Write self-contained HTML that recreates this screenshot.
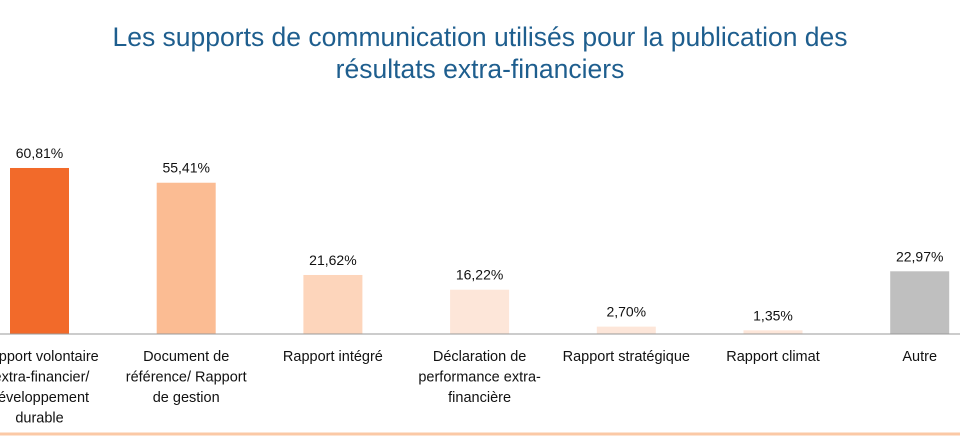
<!DOCTYPE html>
<html><head><meta charset="utf-8"><style>
body{margin:0;background:#fff;width:960px;height:438px;overflow:hidden;font-family:"Liberation Sans",sans-serif}
svg{display:block}
</style></head><body>
<svg width="960" height="438">
<text x="480" y="46" text-anchor="middle" font-size="26.5" fill="#1e5e8e">Les supports de communication utilisés pour la publication des</text>
<text x="480" y="78" text-anchor="middle" font-size="26.5" fill="#1e5e8e">résultats extra-financiers</text>
<g id="bars"></g>
<line x1="0" y1="334" x2="960" y2="334" stroke="#999" stroke-width="1"/>
<line x1="0" y1="434" x2="960" y2="434" stroke="#fbc9a6" stroke-width="3"/>
</svg>
<script>
const categories=[["Rapport volontaire","/extra-financier/","développement","durable"],["Document de","référence/ Rapport","de gestion"],["Rapport intégré"],["Déclaration de","performance extra-","financière"],["Rapport stratégique"],["Rapport climat"],["Autre"]];
const values=[60.81,55.41,21.62,16.22,2.70,1.35,22.97];
const valueLabels=["60,81%","55,41%","21,62%","16,22%","2,70%","1,35%","22,97%"];
const colors=["#f26a2a","#fbbc93","#fdd5bb","#fde6d9","#fde6d9","#fde6d9","#bfbfbf"];
const ns="http://www.w3.org/2000/svg";
const g=document.getElementById("bars");
const x0=39.5, step=146.7, bw=59, base=334, scale=2.73;
const xs=i=>x0+i*step;
const ys=v=>base-v*scale;
values.forEach((v,i)=>{
 const r=document.createElementNS(ns,"rect");
 r.setAttribute("x",xs(i)-bw/2);r.setAttribute("y",ys(v));r.setAttribute("width",bw);r.setAttribute("height",base-ys(v));r.setAttribute("fill",colors[i]);
 
 
 g.appendChild(r);
 const t=document.createElementNS(ns,"text");
 t.setAttribute("x",xs(i));t.setAttribute("y",ys(v)-10);t.setAttribute("text-anchor","middle");t.setAttribute("font-size","14");t.setAttribute("fill","#111");
 t.textContent=valueLabels[i];
 
 
 g.appendChild(t);
 categories[i].forEach((line,j)=>{
  const c=document.createElementNS(ns,"text");
  c.setAttribute("x",xs(i));c.setAttribute("y",361+j*20.5);c.setAttribute("text-anchor","middle");c.setAttribute("font-size","14.5");c.setAttribute("fill","#111");
  c.textContent=line;
  
  
  g.appendChild(c);
 });
});
</script>
</body></html>
